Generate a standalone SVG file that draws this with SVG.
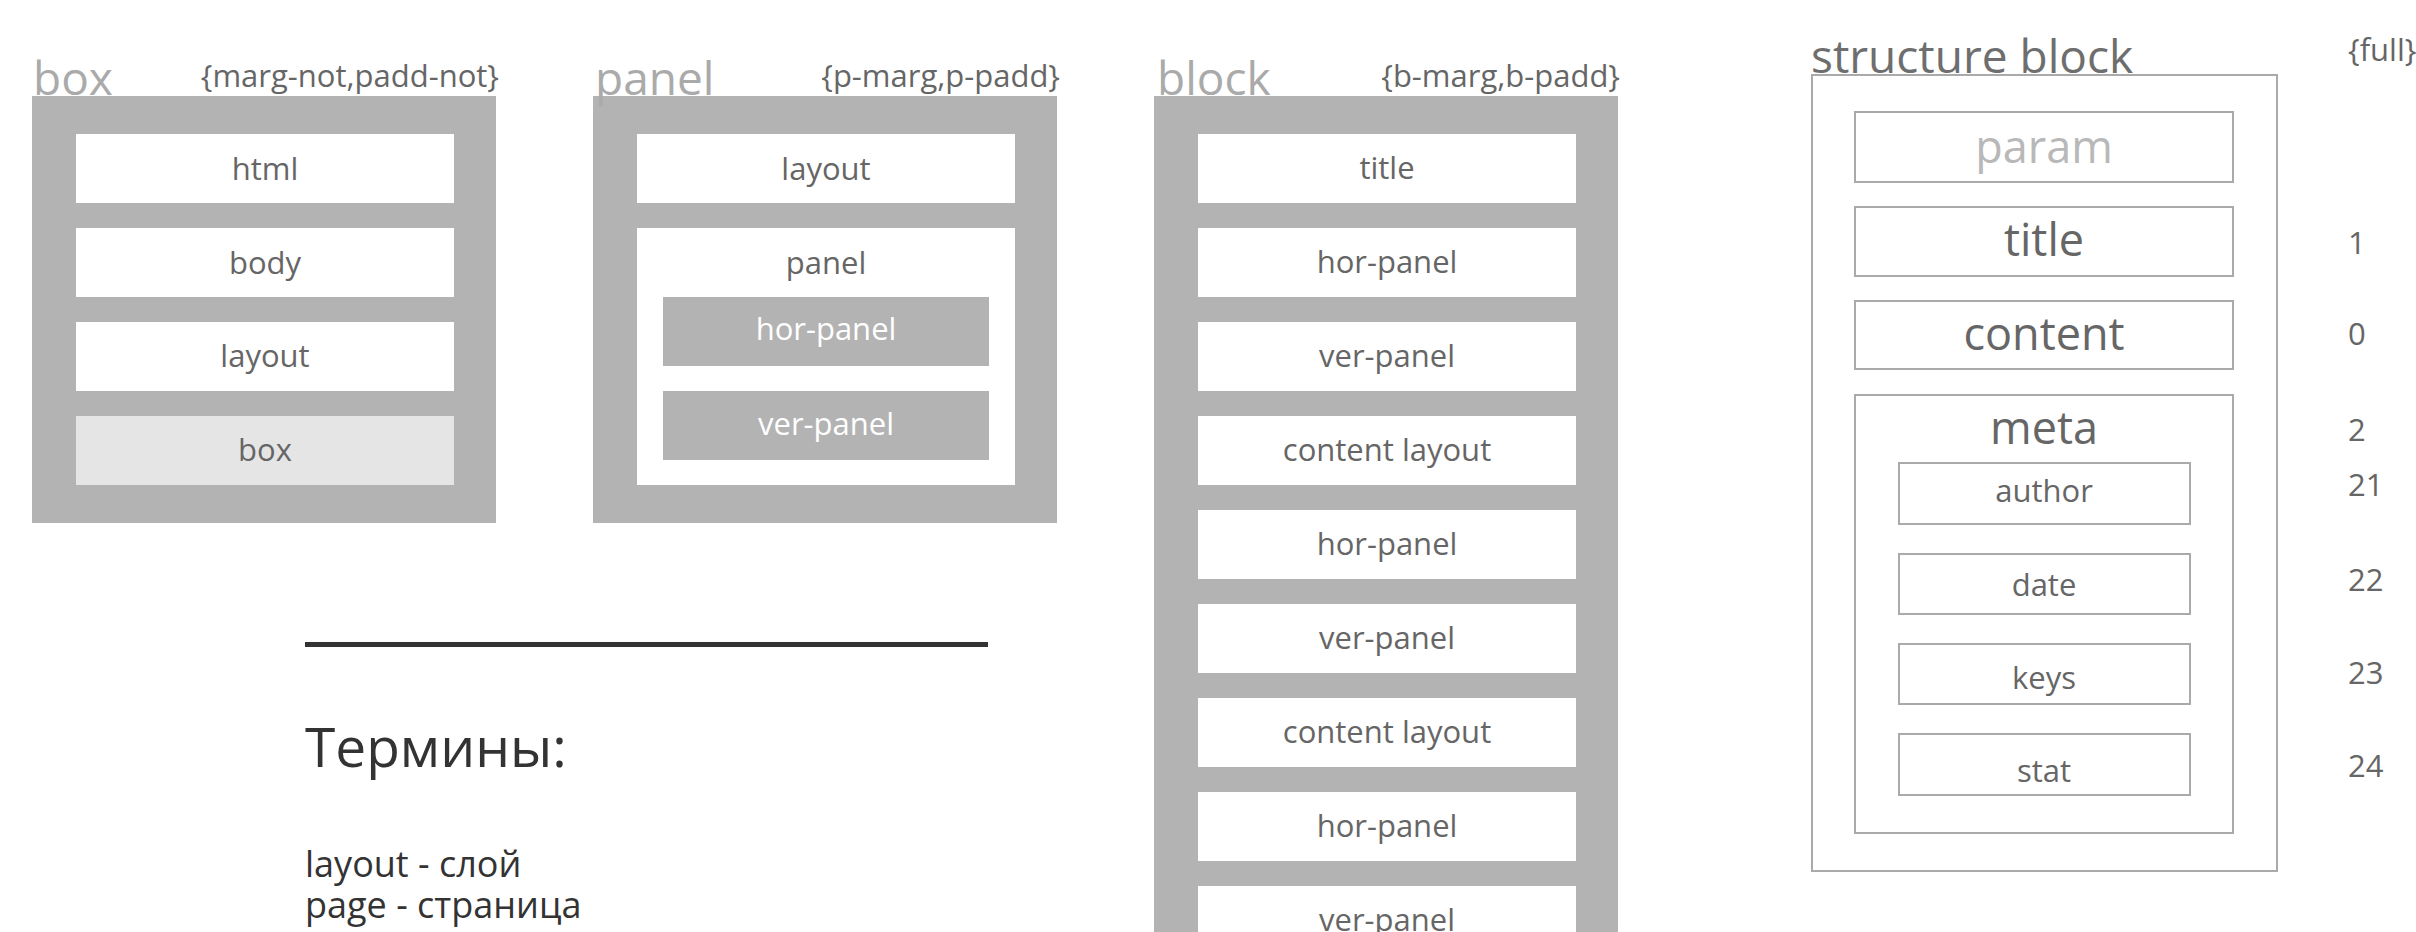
<svg xmlns="http://www.w3.org/2000/svg" width="2416" height="932" viewBox="0 0 2416 932">
<style>
text{font-family:"Open Sans","Liberation Sans",sans-serif}
.outer{fill:#b3b3b3}
.inner{fill:#ffffff}
.lbl{font-size:46px;fill:#aaaaaa}
.par{font-size:31px;fill:#666666;text-anchor:end}
.it{font-size:31px;fill:#666666;text-anchor:middle}
.wt{font-size:31px;fill:#ffffff;text-anchor:middle}
.sb{fill:#ffffff;stroke:#aaaaaa;stroke-width:2}
.big{font-size:45px;fill:#666666;text-anchor:middle}
.num{font-size:31px;fill:#666666}
.term{fill:#333333}
</style>
<rect width="2416" height="932" fill="#ffffff"/>

<g id="box">
<rect class="outer" x="32" y="96" width="464" height="427"/>
<text class="lbl" x="33" y="95">box</text>
<text class="par" x="499" y="87">{marg-not,padd-not}</text>
<rect class="inner" x="76" y="134" width="378" height="69"/>
<text class="it" x="265" y="180">html</text>
<rect class="inner" x="76" y="228" width="378" height="69"/>
<text class="it" x="265" y="274">body</text>
<rect class="inner" x="76" y="322" width="378" height="69"/>
<text class="it" x="265" y="367">layout</text>
<rect x="76" y="416" width="378" height="69" fill="#e5e5e5"/>
<text class="it" x="265" y="461">box</text>
</g>

<g id="panel">
<rect class="outer" x="593" y="96" width="464" height="427"/>
<text class="lbl" x="595" y="95">panel</text>
<text class="par" x="1060" y="87">{p-marg,p-padd}</text>
<rect class="inner" x="637" y="134" width="378" height="69"/>
<text class="it" x="826" y="180">layout</text>
<rect class="inner" x="637" y="228" width="378" height="257"/>
<text class="it" x="826" y="274">panel</text>
<rect class="outer" x="663" y="297" width="326" height="69"/>
<text class="wt" x="826" y="340">hor-panel</text>
<rect class="outer" x="663" y="391" width="326" height="69"/>
<text class="wt" x="826" y="435">ver-panel</text>
</g>

<g id="block">
<rect class="outer" x="1154" y="96" width="464" height="840"/>
<text class="lbl" x="1157" y="95">block</text>
<text class="par" x="1620" y="87">{b-marg,b-padd}</text>
<rect class="inner" x="1198" y="134" width="378" height="69"/>
<text class="it" x="1387" y="179">title</text>
<rect class="inner" x="1198" y="228" width="378" height="69"/>
<text class="it" x="1387" y="273">hor-panel</text>
<rect class="inner" x="1198" y="322" width="378" height="69"/>
<text class="it" x="1387" y="367">ver-panel</text>
<rect class="inner" x="1198" y="416" width="378" height="69"/>
<text class="it" x="1387" y="461">content layout</text>
<rect class="inner" x="1198" y="510" width="378" height="69"/>
<text class="it" x="1387" y="555">hor-panel</text>
<rect class="inner" x="1198" y="604" width="378" height="69"/>
<text class="it" x="1387" y="649">ver-panel</text>
<rect class="inner" x="1198" y="698" width="378" height="69"/>
<text class="it" x="1387" y="743">content layout</text>
<rect class="inner" x="1198" y="792" width="378" height="69"/>
<text class="it" x="1387" y="837">hor-panel</text>
<rect class="inner" x="1198" y="886" width="378" height="69"/>
<text class="it" x="1387" y="931">ver-panel</text>
</g>

<g id="structure-block">
<rect class="sb" x="1812" y="75" width="465" height="796"/>
<text x="1811" y="73" font-size="46" fill="#6e6e6e">structure block</text>
<text x="2348" y="61" font-size="31" fill="#666666">{full}</text>
<rect class="sb" x="1855" y="112" width="378" height="70" stroke="#c8c8c8"/>
<text class="big" x="2044" y="163" fill="#b8b8b8" style="fill:#b8b8b8">param</text>
<rect class="sb" x="1855" y="207" width="378" height="69"/>
<text class="big" x="2044" y="256">title</text>
<rect class="sb" x="1855" y="301" width="378" height="68"/>
<text class="big" x="2044" y="350">content</text>
<rect class="sb" x="1855" y="395" width="378" height="438"/>
<text class="big" x="2044" y="444">meta</text>
<rect class="sb" x="1899" y="463" width="291" height="61"/>
<text class="it" x="2044" y="502">author</text>
<rect class="sb" x="1899" y="554" width="291" height="60"/>
<text class="it" x="2044" y="596">date</text>
<rect class="sb" x="1899" y="644" width="291" height="60"/>
<text class="it" x="2044" y="689">keys</text>
<rect class="sb" x="1899" y="734" width="291" height="61"/>
<text class="it" x="2044" y="782">stat</text>
<text class="num" x="2348" y="254">1</text>
<text class="num" x="2348" y="345">0</text>
<text class="num" x="2348" y="441">2</text>
<text class="num" x="2348" y="496">21</text>
<text class="num" x="2348" y="591">22</text>
<text class="num" x="2348" y="684">23</text>
<text class="num" x="2348" y="777">24</text>
</g>

<g id="terms">
<rect x="305" y="642" width="683" height="5" fill="#333333"/>
<text class="term" x="305" y="767" font-size="55">Термины:</text>
<text class="term" x="305" y="877" font-size="36">layout - слой</text>
<text class="term" x="305" y="918" font-size="36">page - страница</text>
</g>

<g id="connectors"></g>
</svg>
